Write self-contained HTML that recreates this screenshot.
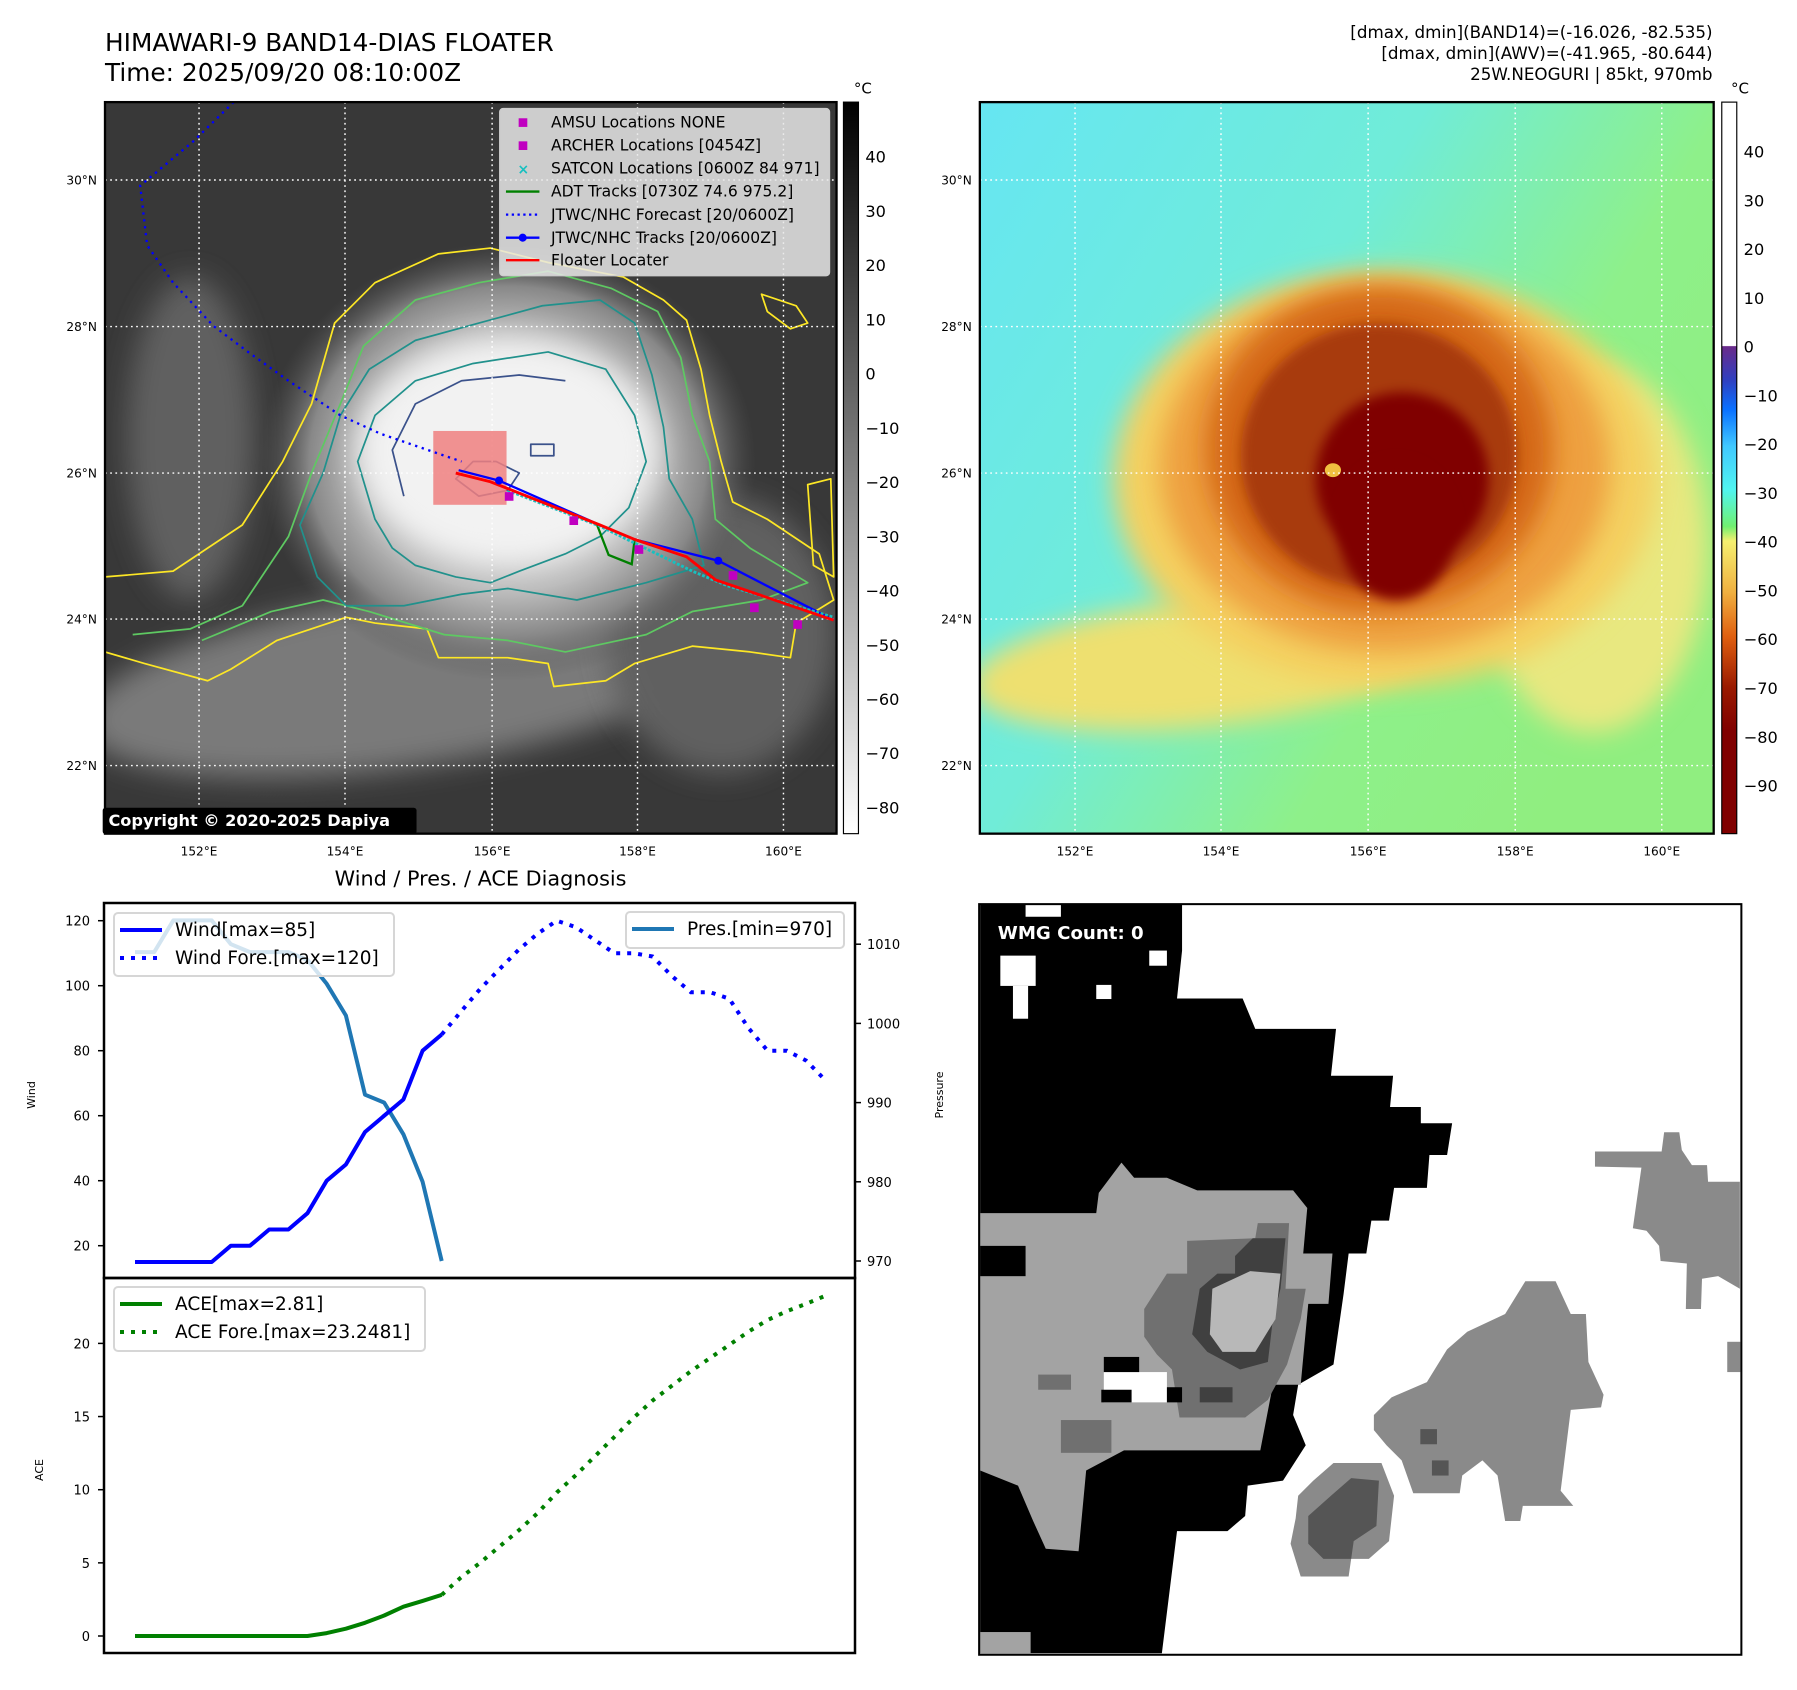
<!DOCTYPE html>
<html><head><meta charset="utf-8">
<style>
html,body{margin:0;padding:0;background:#fff;}
#page{position:relative;width:1797px;height:1690px;overflow:hidden;background:#fff;font-family:"Liberation Sans","DejaVu Sans",sans-serif;}
svg{position:absolute;}
text{font-family:"DejaVu Sans","Liberation Sans",sans-serif;}
</style></head>
<body>
<div id="page">

<svg style="left:0;top:0" width="900" height="900" viewBox="0 0 1560 1560">
<defs>
<radialGradient id="cloud" cx="0.5" cy="0.5" r="0.5">
<stop offset="0" stop-color="#f4f4f4"/><stop offset="0.35" stop-color="#e8e8e8"/><stop offset="0.6" stop-color="#bbb"/><stop offset="0.8" stop-color="#888"/><stop offset="1" stop-color="#555" stop-opacity="0"/>
</radialGradient>
<linearGradient id="gcb" x1="0" y1="0" x2="0" y2="1"><stop offset="0" stop-color="#000"/><stop offset="1" stop-color="#fff"/></linearGradient>
<filter id="bl1" x="-50%" y="-50%" width="200%" height="200%"><feGaussianBlur stdDeviation="25"/></filter>
<clipPath id="c1"><rect x="182" y="177" width="1268" height="1268"/></clipPath>
</defs>
<text x="182" y="88" font-size="43" fill="#000">HIMAWARI-9 BAND14-DIAS FLOATER</text>
<text x="182" y="140" font-size="43" fill="#000">Time: 2025/09/20 08:10:00Z</text>
<g clip-path="url(#c1)">
<rect x="182" y="177" width="1268" height="1268" fill="#383838"/>
<ellipse cx="700" cy="1180" rx="560" ry="150" fill="#7a7a7a" filter="url(#bl1)" transform="rotate(-8 700 1180)"/>
<ellipse cx="330" cy="760" rx="110" ry="280" fill="#606060" filter="url(#bl1)"/>
<ellipse cx="1250" cy="1100" rx="200" ry="240" fill="#606060" filter="url(#bl1)"/>
<ellipse cx="880" cy="800" rx="430" ry="380" fill="url(#cloud)"/>
<ellipse cx="880" cy="780" rx="260" ry="190" fill="#f2f2f2" filter="url(#bl1)"/>
</g>
<g fill="none" stroke-width="3" clip-path="url(#c1)" stroke-linejoin="round">
<path stroke="#fde725" d="M182,1000 L300,990 L420,910 L490,800 L540,700 L580,560 L650,490 L760,440 L850,430 L950,455 L1080,480 L1150,520 L1190,555 L1215,640 L1230,720 L1250,800 L1270,870 L1330,900 L1420,960 L1445,1040 L1380,1080 L1370,1140 L1300,1130 L1200,1120 L1100,1150 L1050,1180 L960,1190 L950,1150 L880,1140 L760,1140 L740,1090 L650,1080 L600,1070 L480,1110 L400,1160 L360,1180 L250,1150 L182,1130"/>
<path stroke="#5ec962" d="M230,1100 L330,1090 L420,1050 L500,930 L540,820 L590,700 L630,600 L720,520 L830,490 L950,470 L1060,500 L1140,540 L1180,620 L1200,720 L1230,800 L1240,900 L1300,950 L1400,1010 L1320,1040 L1200,1060 L1120,1100 L980,1130 L880,1110 L770,1100 L640,1060 L560,1040 L470,1060 L350,1110"/>
<path stroke="#21918c" d="M520,910 L560,820 L590,720 L640,640 L720,590 L830,560 L940,530 L1040,520 L1100,560 L1130,650 L1150,740 L1160,830 L1200,900 L1220,980 L1120,1010 L1000,1040 L880,1020 L800,1030 L700,1050 L600,1050 L550,1000 Z"/>
<path stroke="#21918c" d="M650,900 L620,800 L650,720 L720,660 L820,630 L950,610 L1050,640 L1100,720 L1120,800 L1090,880 L1040,930 L980,960 L900,990 L850,1010 L790,1000 L720,980 L680,950 Z"/>
<path stroke="#3b528b" d="M700,860 L680,780 L720,700 L800,660 L900,650 L980,660"/>
<path stroke="#3b528b" d="M790,830 L820,800 L860,800 L900,820 L880,850 L830,860 Z"/>
<path stroke="#3b528b" d="M920,770 L960,770 L960,790 L920,790 Z"/>
<path stroke="#fde725" d="M1320,510 L1380,530 L1400,560 L1370,570 L1330,540 Z"/>
<path stroke="#fde725" d="M1400,840 L1440,830 L1445,1000 L1410,980 Z"/>
</g>
<g stroke="#fff" stroke-width="2.5" stroke-dasharray="3 6">
<line x1="345" y1="177" x2="345" y2="1445"/><line x1="598" y1="177" x2="598" y2="1445"/><line x1="853" y1="177" x2="853" y2="1445"/><line x1="1105" y1="177" x2="1105" y2="1445"/><line x1="1358" y1="177" x2="1358" y2="1445"/>
<line x1="182" y1="312" x2="1450" y2="312"/><line x1="182" y1="566" x2="1450" y2="566"/><line x1="182" y1="820" x2="1450" y2="820"/><line x1="182" y1="1073" x2="1450" y2="1073"/><line x1="182" y1="1327" x2="1450" y2="1327"/>
</g>
<g clip-path="url(#c1)" fill="none" stroke-width="4">
<rect x="751" y="747" width="127" height="128" fill="#f08080" fill-opacity="0.85" stroke="none"/>
<polyline stroke="#0000ff" stroke-dasharray="4 8" points="405,177 335,245 243,322 255,425 300,490 370,565 430,610 500,660 590,720 660,752 800,800"/>
<polyline stroke="#008000" points="1035,910 1055,962 1095,978 1100,935 1190,965 1235,1000"/>
<polyline stroke="#0000ff" points="795,815 865,833 1040,910 1100,935 1245,972 1445,1075"/>
<polyline stroke="#17c0c0" stroke-width="5" stroke-dasharray="5 3" points="880,850 1040,912 1200,990 1260,1015 1445,1070"/>
<polyline stroke="#ff0000" stroke-width="5" points="790,820 850,835 1040,910 1100,935 1190,965 1240,1005 1445,1075"/>
<circle cx="865" cy="833" r="7" fill="#00f" stroke="none"/><circle cx="1245" cy="972" r="7" fill="#00f" stroke="none"/>
<g fill="#c000c0" stroke="none">
<rect x="987" y="895" width="15" height="15"/><rect x="1100" y="945" width="15" height="15"/><rect x="1263" y="990" width="15" height="15"/><rect x="1300" y="1046" width="15" height="15"/><rect x="1375" y="1075" width="15" height="15"/><rect x="875" y="853" width="15" height="15"/>
</g>
</g>
<rect x="182" y="177" width="1268" height="1268" fill="none" stroke="#000" stroke-width="4"/>
<g font-size="27">
<rect x="866" y="188" width="572" height="290" rx="6" fill="#e8e8e8" fill-opacity="0.85" stroke="#ccc" stroke-width="2"/>
<rect x="899" y="205" width="15" height="15" fill="#c000c0"/><text x="955" y="221">AMSU Locations NONE</text>
<rect x="899" y="245" width="15" height="15" fill="#c000c0"/><text x="955" y="261">ARCHER Locations [0454Z]</text>
<text x="897" y="302" fill="#17c0c0" font-size="24" font-weight="bold">×</text><text x="955" y="301">SATCON Locations [0600Z 84 971]</text>
<line x1="877" y1="332" x2="935" y2="332" stroke="#008000" stroke-width="4"/><text x="955" y="341">ADT Tracks [0730Z 74.6 975.2]</text>
<line x1="877" y1="372" x2="935" y2="372" stroke="#00f" stroke-width="4" stroke-dasharray="4 6"/><text x="955" y="381">JTWC/NHC Forecast [20/0600Z]</text>
<line x1="877" y1="412" x2="935" y2="412" stroke="#00f" stroke-width="4"/><circle cx="906" cy="412" r="7" fill="#00f"/><text x="955" y="421">JTWC/NHC Tracks [20/0600Z]</text>
<line x1="877" y1="451" x2="935" y2="451" stroke="#f00" stroke-width="4"/><text x="955" y="460">Floater Locater</text>
</g>
<g font-size="21" fill="#000">
<text x="168" y="320" text-anchor="end">30°N</text><text x="168" y="574" text-anchor="end">28°N</text><text x="168" y="828" text-anchor="end">26°N</text><text x="168" y="1081" text-anchor="end">24°N</text><text x="168" y="1335" text-anchor="end">22°N</text>
<text x="345" y="1483" text-anchor="middle">152°E</text><text x="598" y="1483" text-anchor="middle">154°E</text><text x="853" y="1483" text-anchor="middle">156°E</text><text x="1105" y="1483" text-anchor="middle">158°E</text><text x="1358" y="1483" text-anchor="middle">160°E</text>
</g>
<g><rect x="178" y="1400" width="544" height="46" rx="5" fill="#000"/><text x="188" y="1432" fill="#fff" font-size="28" font-weight="bold">Copyright © 2020-2025 Dapiya</text></g>
<g>
<rect x="1462" y="177" width="26" height="1268" fill="url(#gcb)" stroke="#000" stroke-width="2"/>
<text x="1480" y="162" font-size="26">°C</text>
<g font-size="28"><text x="1500" y="282">40</text><text x="1500" y="376">30</text><text x="1500" y="470">20</text><text x="1500" y="564">10</text><text x="1500" y="658">0</text><text x="1500" y="752">−10</text><text x="1500" y="846">−20</text><text x="1500" y="940">−30</text><text x="1500" y="1034">−40</text><text x="1500" y="1128">−50</text><text x="1500" y="1222">−60</text><text x="1500" y="1316">−70</text><text x="1500" y="1410">−80</text></g>
</g>
<text x="833" y="1535" text-anchor="middle" font-size="36">Wind / Pres. / ACE Diagnosis</text>
</svg>

<svg style="left:900px;top:0" width="897" height="900" viewBox="0 0 1554 1560">
<defs>
<linearGradient id="bgr" x1="0" y1="0" x2="1" y2="0.6"><stop offset="0" stop-color="#66e6f2"/><stop offset="0.45" stop-color="#70ecd8"/><stop offset="0.75" stop-color="#8ef08a"/><stop offset="1" stop-color="#90ee80"/></linearGradient>
<linearGradient id="ccb" x1="0" y1="0" x2="0" y2="1">
<stop offset="0" stop-color="#fff"/><stop offset="0.333" stop-color="#fff"/><stop offset="0.334" stop-color="#6a2a8a"/><stop offset="0.38" stop-color="#3040c0"/><stop offset="0.42" stop-color="#0a70ff"/><stop offset="0.47" stop-color="#40c8ff"/><stop offset="0.53" stop-color="#50f5f0"/><stop offset="0.58" stop-color="#70f070"/><stop offset="0.6" stop-color="#f5f070"/><stop offset="0.67" stop-color="#f0b040"/><stop offset="0.73" stop-color="#e06010"/><stop offset="0.8" stop-color="#9a1a00"/><stop offset="0.86" stop-color="#800000"/><stop offset="1" stop-color="#800000"/></linearGradient>
<filter id="bl2" x="-50%" y="-50%" width="200%" height="200%"><feGaussianBlur stdDeviation="22"/></filter>
<filter id="bl3" x="-50%" y="-50%" width="200%" height="200%"><feGaussianBlur stdDeviation="10"/></filter>
<clipPath id="c2"><rect x="138" y="177" width="1272" height="1268"/></clipPath>
</defs>
<g font-size="29" text-anchor="end">
<text x="1408" y="66">[dmax, dmin](BAND14)=(-16.026, -82.535)</text>
<text x="1408" y="102">[dmax, dmin](AWV)=(-41.965, -80.644)</text>
<text x="1408" y="139">25W.NEOGURI | 85kt, 970mb</text>
</g>
<g clip-path="url(#c2)">
<rect x="138" y="177" width="1272" height="1268" fill="url(#bgr)"/>
<ellipse cx="520" cy="1150" rx="400" ry="110" fill="#eee070" filter="url(#bl2)" transform="rotate(-6 520 1150)"/>
<ellipse cx="1200" cy="950" rx="200" ry="320" fill="#e8e880" filter="url(#bl2)"/>
<ellipse cx="840" cy="830" rx="470" ry="360" fill="#f4d060" filter="url(#bl2)"/>
<ellipse cx="840" cy="810" rx="390" ry="320" fill="#eea040" filter="url(#bl2)"/>
<ellipse cx="830" cy="780" rx="300" ry="280" fill="#d46818" filter="url(#bl2)"/>
<ellipse cx="830" cy="790" rx="240" ry="230" fill="#a83a08" filter="url(#bl3)"/>
<ellipse cx="870" cy="830" rx="150" ry="150" fill="#800000" filter="url(#bl3)"/>
<ellipse cx="860" cy="920" rx="100" ry="120" fill="#800000" filter="url(#bl3)"/>
<ellipse cx="750" cy="815" rx="14" ry="12" fill="#f0c040"/>
</g>
<g stroke="#fff" stroke-width="2.5" stroke-dasharray="3 6">
<line x1="303" y1="177" x2="303" y2="1445"/><line x1="556" y1="177" x2="556" y2="1445"/><line x1="811" y1="177" x2="811" y2="1445"/><line x1="1066" y1="177" x2="1066" y2="1445"/><line x1="1320" y1="177" x2="1320" y2="1445"/>
<line x1="138" y1="312" x2="1410" y2="312"/><line x1="138" y1="566" x2="1410" y2="566"/><line x1="138" y1="820" x2="1410" y2="820"/><line x1="138" y1="1073" x2="1410" y2="1073"/><line x1="138" y1="1327" x2="1410" y2="1327"/>
</g>
<rect x="138" y="177" width="1272" height="1268" fill="none" stroke="#000" stroke-width="4"/>
<g font-size="21">
<text x="124" y="320" text-anchor="end">30°N</text><text x="124" y="574" text-anchor="end">28°N</text><text x="124" y="828" text-anchor="end">26°N</text><text x="124" y="1081" text-anchor="end">24°N</text><text x="124" y="1335" text-anchor="end">22°N</text>
<text x="303" y="1483" text-anchor="middle">152°E</text><text x="556" y="1483" text-anchor="middle">154°E</text><text x="811" y="1483" text-anchor="middle">156°E</text><text x="1066" y="1483" text-anchor="middle">158°E</text><text x="1320" y="1483" text-anchor="middle">160°E</text>
</g>
<g>
<rect x="1424" y="177" width="26" height="1268" fill="url(#ccb)" stroke="#000" stroke-width="2"/>
<text x="1440" y="162" font-size="26">°C</text>
<g font-size="28"><text x="1462" y="273">40</text><text x="1462" y="358">30</text><text x="1462" y="442">20</text><text x="1462" y="527">10</text><text x="1462" y="611">0</text><text x="1462" y="696">−10</text><text x="1462" y="780">−20</text><text x="1462" y="865">−30</text><text x="1462" y="949">−40</text><text x="1462" y="1034">−50</text><text x="1462" y="1118">−60</text><text x="1462" y="1203">−70</text><text x="1462" y="1288">−80</text><text x="1462" y="1372">−90</text></g>
</g>
</svg>

<svg style="left:970px;top:890px" width="780" height="790" viewBox="0 0 1545 1565">
<rect x="18" y="28" width="1510" height="1487" fill="#fff"/>
<polygon fill="#000" points="20,28 420,28 420,120 410,215 540,215 565,275 725,275 715,368 838,368 832,430 893,430 893,462 955,462 945,525 910,525 905,590 840,590 830,655 795,655 785,720 750,720 740,800 720,940 650,980 640,1040 665,1100 620,1170 550,1180 545,1240 510,1270 410,1270 380,1512 20,1512"/>
<g fill="#fff"><rect x="60" y="130" width="70" height="60"/><rect x="85" y="190" width="30" height="65"/><rect x="250" y="188" width="30" height="28"/><rect x="355" y="120" width="35" height="30"/><rect x="110" y="28" width="70" height="25"/></g>
<polygon fill="#a3a3a3" points="20,640 250,640 255,600 300,540 325,570 390,570 450,595 640,595 668,630 660,720 718,720 710,820 670,820 655,980 600,980 575,1110 305,1110 230,1150 215,1310 150,1305 125,1250 95,1180 20,1150"/>
<rect x="20" y="705" width="90" height="60" fill="#000"/>
<polygon fill="#707070" points="430,695 565,690 570,660 632,660 625,790 665,790 655,850 628,940 590,1010 545,1045 415,1045 400,950 370,920 345,885 345,830 390,760 430,760"/>
<polygon fill="#404040" points="525,725 560,690 625,690 615,790 600,850 590,935 535,950 470,915 440,880 455,790 490,760 525,760"/>
<polygon fill="#b8b8b8" points="480,790 555,755 615,760 605,850 565,915 500,915 475,880"/>
<rect x="265" y="955" width="125" height="60" fill="#fff"/><rect x="265" y="925" width="70" height="30" fill="#000"/><rect x="260" y="990" width="60" height="25" fill="#000"/><rect x="390" y="985" width="30" height="30" fill="#000"/>
<rect x="180" y="1050" width="100" height="65" fill="#707070"/><rect x="135" y="960" width="65" height="30" fill="#707070"/><rect x="455" y="985" width="65" height="30" fill="#404040"/>
<polygon fill="#8a8a8a" points="800,1040 835,1005 905,975 945,910 985,875 1060,840 1100,775 1160,775 1190,840 1220,840 1225,935 1255,1000 1250,1025 1190,1030 1170,1190 1195,1220 1095,1220 1090,1250 1060,1250 1045,1160 1015,1130 975,1160 970,1195 878,1195 855,1130 825,1100 800,1070"/>
<rect x="892" y="1068" width="33" height="30" fill="#555"/><rect x="915" y="1130" width="33" height="30" fill="#555"/>
<polygon fill="#8a8a8a" points="650,1200 680,1170 720,1135 815,1135 840,1200 830,1290 790,1325 755,1325 750,1360 655,1360 635,1295 645,1245"/>
<polygon fill="#555" points="670,1240 715,1200 755,1165 810,1170 805,1260 760,1290 755,1325 700,1325 670,1295"/>
<polygon fill="#8a8a8a" points="1238,518 1370,518 1375,480 1405,480 1410,515 1430,545 1460,545 1462,578 1525,578 1525,790 1482,765 1450,770 1448,830 1418,830 1420,740 1368,735 1365,705 1340,675 1313,670 1330,550 1238,548"/>
<rect x="1500" y="895" width="26" height="60" fill="#8a8a8a"/><rect x="20" y="1470" width="100" height="42" fill="#a3a3a3"/>
<rect x="18" y="28" width="1510" height="1487" fill="none" stroke="#000" stroke-width="4"/>
<g><rect x="40" y="55" width="365" height="60" rx="6" fill="#000"/><text x="55" y="97" font-size="36" font-weight="bold" fill="#fff">WMG Count: 0</text></g>
</svg>

<svg id="diag" style="left:0;top:0" width="1797" height="1690" viewBox="0 0 1797 1690"></svg>
</div>

<script>
const windObs = [15,15,15,15,15,20,20,25,25,30,40,45,55,60,65,80,85];
const windFore = [85,92,99,105,111,116,120,118,114,110,110,109,103,98,98,96,87,80,80,77,71];
const presObs = [1009,1009,1013,1013,1013,1010,1009,1009,1009,1008,1005,1001,991,990,986,980,970];
const aceObs = [0,0,0,0,0,0,0,0,0,0,0.2,0.5,0.9,1.4,2.0,2.4,2.81];
const aceFore = [2.81,4.0,5.0,6.1,7.2,8.4,9.8,11.0,12.3,13.6,14.9,16.1,17.1,18.1,19.0,19.9,20.8,21.6,22.2,22.7,23.25];
const windTicks = [20,40,60,80,100,120];
const presTicks = [970,980,990,1000,1010];
const aceTicks = [0,5,10,15,20];

const NS = 'http://www.w3.org/2000/svg';
const svg = document.getElementById('diag');
const xAt = i => 135 + 19.17 * i;
const yWind = v => 920.7 + (120 - v) * 3.25;
const yPres = v => 1261 - (v - 970) * 7.92;
const yAce = v => 1636 - v * 14.63;
function mk(tag, attrs, parent) {
  const e = document.createElementNS(NS, tag);
  for (const k in attrs) e.setAttribute(k, attrs[k]);
  (parent || svg).appendChild(e);
  return e;
}
function txt(x, y, s, size, anchor, parent) {
  const t = mk('text', {x: x, y: y, 'font-size': size, 'text-anchor': anchor || 'start'}, parent);
  t.textContent = s;
  return t;
}
const ax1 = mk('rect', {x: 104, y: 903, width: 751, height: 375, fill: 'none', stroke: '#000', 'stroke-width': 2.5});


const ax2 = mk('rect', {x: 104, y: 1278, width: 751, height: 375, fill: 'none', stroke: '#000', 'stroke-width': 2.5});


windTicks.forEach(v => {
  mk('line', {x1: 98, x2: 104, y1: yWind(v), y2: yWind(v), stroke: '#000', 'stroke-width': 1.5});
  const t = txt(90, yWind(v) + 5, String(v), 13, 'end');
  
  
});
presTicks.forEach(v => {
  mk('line', {x1: 855, x2: 861, y1: yPres(v), y2: yPres(v), stroke: '#000', 'stroke-width': 1.5});
  const t = txt(867, yPres(v) + 5, String(v), 13, 'start');
  
  
});
aceTicks.forEach(v => {
  mk('line', {x1: 98, x2: 104, y1: yAce(v), y2: yAce(v), stroke: '#000', 'stroke-width': 1.5});
  const t = txt(90, yAce(v) + 5, String(v), 13, 'end');
  
  
});
const yl1 = txt(0, 0, 'Wind', 11, 'middle');
yl1.setAttribute('transform', 'translate(35,1095) rotate(-90)');


const yl2 = txt(0, 0, 'Pressure', 11, 'middle');
yl2.setAttribute('transform', 'translate(943,1095) rotate(-90)');


const yl3 = txt(0, 0, 'ACE', 11, 'middle');
yl3.setAttribute('transform', 'translate(43,1470) rotate(-90)');



function pts(arr, off, yf) { return arr.map((v, i) => xAt(i + off).toFixed(1) + ',' + yf(v).toFixed(1)).join(' '); }
const pl1 = mk('polyline', {points: pts(presObs, 0, yPres), fill: 'none', stroke: '#1f77b4', 'stroke-width': 4, 'stroke-linejoin': 'round'});


const pl2 = mk('polyline', {points: pts(windObs, 0, yWind), fill: 'none', stroke: '#0000ff', 'stroke-width': 4, 'stroke-linejoin': 'round'});


const pl3 = mk('polyline', {points: pts(windFore, windObs.length - 1, yWind), fill: 'none', stroke: '#0000ff', 'stroke-width': 4, 'stroke-dasharray': '4 7'});


const pl4 = mk('polyline', {points: pts(aceObs, 0, yAce), fill: 'none', stroke: '#008000', 'stroke-width': 4, 'stroke-linejoin': 'round'});


const pl5 = mk('polyline', {points: pts(aceFore, aceObs.length - 1, yAce), fill: 'none', stroke: '#008000', 'stroke-width': 4, 'stroke-dasharray': '4 7'});



function legend(x, y, w, h, items, name) {
  const g = mk('g', {});
  
  
  mk('rect', {x: x, y: y, width: w, height: h, rx: 4, fill: '#fff', 'fill-opacity': 0.8, stroke: '#d6d6d6', 'stroke-width': 2}, g);
  items.forEach((it, k) => {
    const yy = y + 17 + k * 28;
    const ln = {x1: x + 6, x2: x + 48, y1: yy, y2: yy, stroke: it.c, 'stroke-width': 4};
    if (it.d) ln['stroke-dasharray'] = '4 7';
    mk('line', ln, g);
    txt(x + 61, yy + 6, it.t, 18.5, 'start', g);
  });
}
legend(114, 913, 280, 63, [{c: '#0000ff', t: 'Wind[max=85]'}, {c: '#0000ff', t: 'Wind Fore.[max=120]', d: 1}], 'wind-legend');
legend(626, 912, 218, 36, [{c: '#1f77b4', t: 'Pres.[min=970]'}], 'pressure-legend');
legend(114, 1287, 311, 64, [{c: '#008000', t: 'ACE[max=2.81]'}, {c: '#008000', t: 'ACE Fore.[max=23.2481]', d: 1}], 'ace-legend');
</script>
</body></html>
